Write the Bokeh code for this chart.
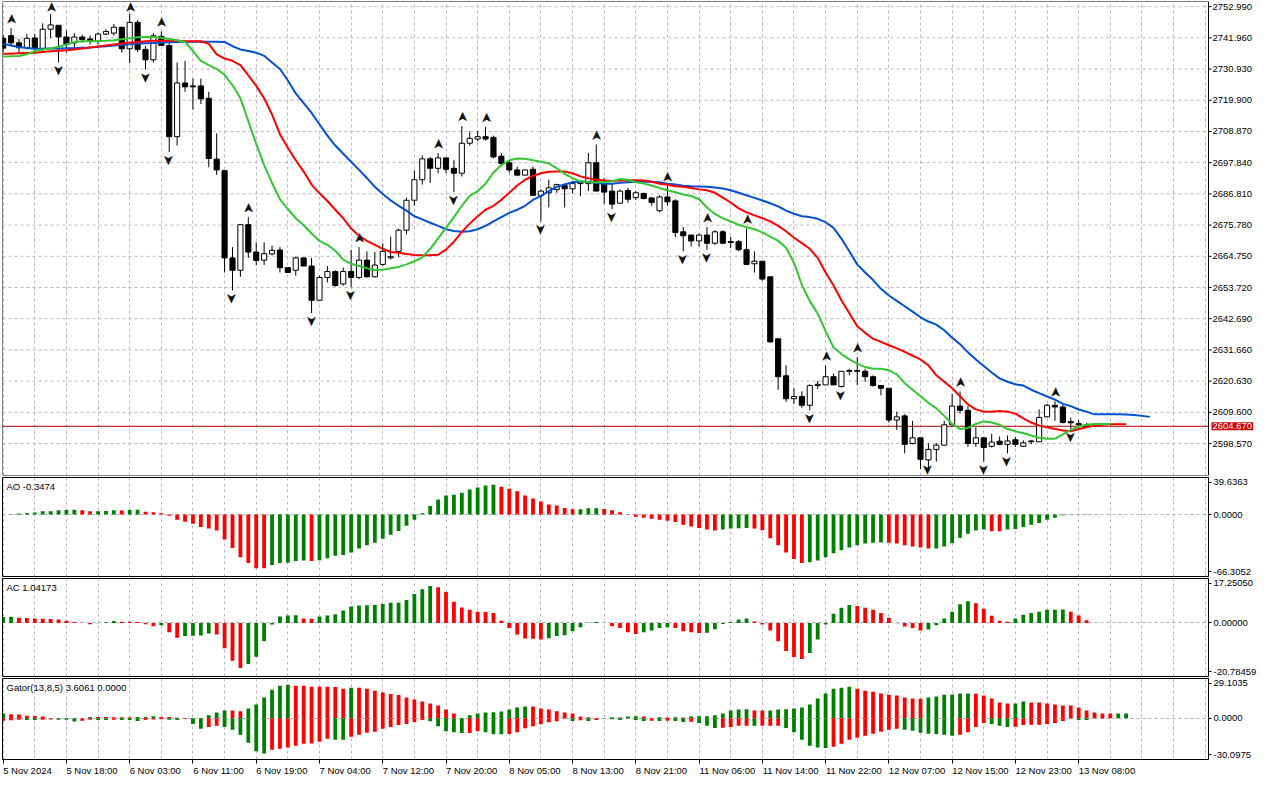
import math
import numpy as np
from bokeh.plotting import figure
from bokeh.layouts import column
from bokeh.models import (Range1d, FixedTicker, Grid, Label, ColumnDataSource,
                          BoxAnnotation, LinearAxis)
from bokeh.embed import file_html
from bokeh.resources import INLINE
from bokeh.core.properties import value

# ---------------- data (XAUUSD H1) ----------------
opens = [2741.8, 2742.71, 2740.18, 2738.45, 2741.90, 2738.10, 2745.01, 2746.39, 2742.25, 2740.18,
 2742.25, 2741.56, 2740.75, 2743.28, 2743.63, 2745.70, 2738.10, 2747.43, 2737.87, 2734.19,
 2742.48, 2739.26, 2707.02, 2726.02, 2724.98, 2724.98, 2720.60, 2699.08, 2695.04, 2664.19,
 2659.81, 2675.93, 2666.26, 2663.38, 2665.57, 2666.95, 2660.74, 2659.81, 2664.19, 2661.30,
 2649.22, 2657.28, 2659.36, 2654.97, 2659.36, 2657.28, 2663.38, 2657.51, 2661.88, 2664.20,
 2666.49, 2673.97, 2684.56, 2691.82, 2699.19, 2695.85, 2699.53, 2695.85, 2694.12, 2704.71,
 2706.21, 2707.02, 2706.79, 2700.11, 2697.80, 2695.27, 2693.43, 2695.50, 2686.29, 2687.21,
 2688.36, 2689.75, 2688.60, 2690.44, 2690.44, 2697.80, 2690.44, 2687.79, 2683.53, 2688.02,
 2685.49, 2686.98, 2685.37, 2680.88, 2685.72, 2684.34, 2673.40, 2672.25, 2670.17, 2672.25,
 2669.37, 2673.40, 2669.95, 2669.95, 2667.07, 2662.10, 2663.00, 2657.50, 2635.60, 2622.50,
 2614.40, 2615.20, 2612.10, 2619.10, 2619.30, 2622.20, 2618.70, 2624.40, 2624.40, 2624.10,
 2622.20, 2619.10, 2618.10, 2606.90, 2608.35, 2598.60, 2600.60, 2592.80, 2596.50, 2598.00,
 2605.20, 2611.80, 2610.30, 2598.60, 2600.60, 2597.60, 2599.40, 2598.30, 2599.90, 2597.60,
 2599.50, 2599.20, 2608.00, 2612.10, 2611.50, 2606.30, 2605.60, 2605.20]
highs = [2742.9, 2745.36, 2741.56, 2743.28, 2743.28, 2747.08, 2750.30, 2746.39, 2744.55, 2743.63,
 2743.05, 2742.71, 2743.86, 2745.01, 2746.85, 2745.70, 2750.54, 2748.23, 2739.03, 2743.63,
 2744.20, 2740.18, 2733.27, 2733.84, 2727.52, 2727.52, 2722.90, 2708.17, 2695.04, 2668.00,
 2675.93, 2678.58, 2669.70, 2669.70, 2668.56, 2667.99, 2660.74, 2664.65, 2664.19, 2664.19,
 2657.86, 2661.30, 2659.82, 2660.74, 2667.00, 2668.00, 2666.49, 2666.26, 2669.37, 2671.67,
 2674.55, 2685.49, 2695.04, 2700.45, 2699.88, 2701.20, 2699.53, 2698.73, 2710.81, 2708.86,
 2709.09, 2710.47, 2707.36, 2701.26, 2698.73, 2696.42, 2695.30, 2696.42, 2688.36, 2691.82,
 2690.40, 2690.44, 2691.24, 2691.24, 2701.26, 2704.25, 2692.40, 2690.67, 2688.36, 2688.94,
 2687.79, 2687.21, 2685.72, 2686.29, 2689.52, 2684.91, 2675.10, 2672.25, 2672.80, 2675.10,
 2673.97, 2673.97, 2671.67, 2670.50, 2674.55, 2666.50, 2663.00, 2657.50, 2635.60, 2626.20,
 2618.10, 2617.00, 2619.50, 2620.70, 2626.20, 2623.30, 2624.10, 2625.00, 2629.10, 2625.00,
 2622.70, 2619.10, 2618.10, 2609.80, 2608.90, 2606.60, 2600.60, 2598.60, 2598.80, 2606.60,
 2616.10, 2617.00, 2611.80, 2604.30, 2600.60, 2602.00, 2601.10, 2601.40, 2600.90, 2599.70,
 2599.90, 2610.60, 2612.60, 2613.50, 2612.40, 2607.80, 2606.85, 2605.90]
lows = [2736.9, 2739.03, 2736.72, 2737.87, 2736.95, 2736.72, 2741.90, 2733.27, 2736.72, 2737.87,
 2740.18, 2739.60, 2739.60, 2742.94, 2742.71, 2736.72, 2733.04, 2736.95, 2730.73, 2733.27,
 2739.03, 2701.60, 2703.90, 2722.90, 2716.57, 2718.53, 2696.20, 2693.55, 2659.02, 2652.70,
 2657.51, 2664.19, 2661.65, 2661.65, 2665.11, 2659.02, 2659.02, 2657.88, 2661.30, 2644.63,
 2649.22, 2655.55, 2654.05, 2654.40, 2653.82, 2656.70, 2657.28, 2657.28, 2661.30, 2663.61,
 2664.42, 2672.48, 2682.61, 2690.09, 2690.67, 2694.12, 2694.12, 2687.44, 2692.97, 2703.91,
 2705.40, 2705.63, 2699.30, 2696.65, 2694.35, 2693.43, 2693.43, 2686.29, 2677.08, 2682.03,
 2687.20, 2682.03, 2686.98, 2686.06, 2687.79, 2687.79, 2683.18, 2681.46, 2683.53, 2683.76,
 2684.68, 2684.91, 2682.61, 2680.30, 2682.61, 2671.50, 2666.50, 2668.20, 2668.20, 2667.10,
 2668.80, 2669.00, 2667.64, 2666.50, 2661.88, 2659.00, 2656.10, 2634.30, 2617.60, 2613.30,
 2612.60, 2611.20, 2610.30, 2617.90, 2619.30, 2619.30, 2618.40, 2622.70, 2619.30, 2620.40,
 2618.70, 2615.60, 2606.00, 2603.40, 2595.10, 2598.30, 2589.60, 2589.40, 2592.20, 2598.00,
 2604.90, 2609.20, 2597.40, 2597.40, 2592.20, 2597.20, 2598.00, 2595.10, 2597.40, 2597.40,
 2598.30, 2599.20, 2607.80, 2606.60, 2605.70, 2603.70, 2604.20, 2604.30]
closes = [2738.3, 2740.18, 2738.45, 2741.79, 2738.45, 2745.01, 2746.51, 2742.25, 2739.60, 2742.25,
 2741.33, 2740.75, 2743.28, 2744.20, 2745.70, 2738.10, 2747.43, 2737.87, 2734.19, 2742.71,
 2739.26, 2707.02, 2726.02, 2724.63, 2724.63, 2720.37, 2699.31, 2695.27, 2664.19, 2659.81,
 2675.93, 2666.26, 2663.27, 2665.68, 2666.84, 2660.74, 2659.02, 2664.19, 2661.30, 2649.22,
 2657.28, 2659.36, 2654.40, 2659.36, 2657.28, 2663.38, 2657.51, 2661.65, 2666.49, 2664.60,
 2673.97, 2684.56, 2691.82, 2699.19, 2695.85, 2699.53, 2695.50, 2694.12, 2704.71, 2706.44,
 2707.02, 2706.21, 2699.88, 2697.58, 2695.27, 2693.43, 2695.27, 2686.29, 2687.79, 2688.94,
 2690.09, 2688.60, 2690.44, 2691.00, 2697.80, 2687.79, 2687.44, 2683.18, 2687.79, 2684.91,
 2687.21, 2685.14, 2683.76, 2685.72, 2683.99, 2673.17, 2672.00, 2670.17, 2672.25, 2669.37,
 2673.40, 2669.37, 2669.60, 2667.07, 2661.88, 2663.00, 2656.70, 2634.50, 2622.20, 2614.40,
 2615.20, 2612.10, 2619.10, 2619.50, 2622.20, 2619.30, 2624.10, 2624.10, 2624.10, 2622.20,
 2619.10, 2618.10, 2606.90, 2608.00, 2598.30, 2600.60, 2593.00, 2596.50, 2598.00, 2605.20,
 2611.80, 2610.30, 2598.60, 2600.60, 2597.20, 2599.10, 2598.30, 2599.50, 2598.30, 2598.80,
 2599.20, 2607.80, 2612.10, 2611.50, 2606.00, 2605.90, 2605.20, 2604.67]

# Alligator (shifted lines, as displayed): jaw (blue), teeth (red), lips (green)
jaw = [2739.83, 2739.25, 2738.68, 2738.33, 2738.10, 2738.10, 2738.20, 2738.20, 2738.30, 2738.30,
 2738.45, 2738.56, 2738.80, 2739.00, 2739.25, 2739.50, 2739.70, 2739.94, 2740.06, 2740.17,
 2740.30, 2740.40, 2740.50, 2740.60, 2740.60, 2740.60, 2740.60, 2740.60, 2740.50, 2739.00,
 2737.87, 2737.30, 2736.72, 2735.60, 2733.27, 2730.96, 2726.90, 2722.30, 2718.90, 2715.40,
 2711.40, 2707.40, 2703.90, 2701.00, 2698.15, 2695.30, 2692.40, 2689.30, 2686.80, 2684.50,
 2682.60, 2680.90, 2678.90, 2677.80, 2676.60, 2675.50, 2674.30, 2673.70, 2673.40, 2673.60,
 2674.30, 2675.50, 2677.10, 2678.60, 2680.10, 2681.20, 2682.60, 2684.70, 2686.10, 2687.80,
 2689.30, 2690.10, 2690.90, 2691.20, 2691.00, 2690.70, 2690.40, 2690.40, 2690.70, 2690.90,
 2691.10, 2691.20, 2691.10, 2690.90, 2690.40, 2690.10, 2689.70, 2689.50, 2689.40, 2689.30,
 2689.05, 2688.70, 2688.10, 2687.20, 2686.30, 2685.40, 2684.45, 2683.50, 2682.40, 2680.90,
 2679.80, 2678.90, 2678.60, 2678.00, 2676.80, 2674.80, 2671.00, 2666.50, 2661.90, 2659.00,
 2656.35, 2653.25, 2650.90, 2649.00, 2647.10, 2645.20, 2643.20, 2641.70, 2640.60, 2638.60,
 2636.00, 2633.70, 2630.80, 2628.30, 2626.00, 2623.70, 2621.60, 2620.40, 2619.50, 2619.05,
 2617.60, 2616.40, 2615.20, 2614.10, 2612.60, 2611.80, 2610.60, 2609.85, 2608.90, 2608.90,
 2608.90, 2608.90, 2608.80, 2608.70, 2608.35, 2608.00]
teeth = [2736.37, 2736.37, 2736.50, 2736.60, 2736.70, 2736.95, 2737.20, 2737.40, 2737.60, 2737.87,
 2738.20, 2738.56, 2738.90, 2739.25, 2739.60, 2739.94, 2740.30, 2740.50, 2740.75, 2740.90,
 2740.90, 2740.90, 2740.90, 2740.75, 2740.75, 2740.75, 2739.83, 2736.14, 2734.65, 2733.84,
 2732.34, 2728.66, 2724.98, 2720.60, 2714.85, 2707.90, 2703.10, 2698.70, 2694.70, 2690.10,
 2687.00, 2684.30, 2681.20, 2678.20, 2674.55, 2672.00, 2670.20, 2668.80, 2667.40, 2666.26,
 2666.00, 2665.60, 2665.20, 2665.10, 2665.10, 2665.30, 2667.10, 2669.90, 2673.40, 2676.30,
 2678.90, 2681.20, 2682.60, 2684.70, 2687.20, 2689.75, 2691.80, 2693.20, 2694.10, 2694.60,
 2694.70, 2694.70, 2694.10, 2693.00, 2692.30, 2691.80, 2691.50, 2691.40, 2691.50, 2691.60,
 2691.60, 2691.50, 2691.10, 2690.40, 2690.00, 2689.50, 2689.30, 2688.90, 2688.40, 2688.10,
 2687.20, 2685.50, 2683.76, 2681.70, 2680.30, 2679.20, 2678.20, 2677.10, 2675.50, 2673.60,
 2671.30, 2669.40, 2667.40, 2664.20, 2659.00, 2654.40, 2649.20, 2644.60, 2640.00, 2637.70,
 2635.60, 2634.50, 2633.30, 2632.20, 2631.00, 2629.60, 2628.30, 2626.20, 2622.70, 2620.40,
 2618.10, 2615.30, 2612.40, 2610.65, 2609.85, 2609.85, 2610.10, 2609.85, 2609.15, 2607.50,
 2606.00, 2604.90, 2604.30, 2603.70, 2603.20, 2602.90, 2603.70, 2604.30, 2604.90, 2605.20,
 2605.35, 2605.35, 2605.35]
lips = [2735.34, 2735.45, 2735.57, 2736.14, 2737.30, 2737.87, 2738.20, 2738.80, 2739.60, 2740.50,
 2740.75, 2740.75, 2740.75, 2740.90, 2741.10, 2741.44, 2741.80, 2742.13, 2742.25, 2742.25,
 2742.00, 2741.56, 2741.10, 2740.50, 2737.30, 2733.84, 2732.34, 2730.96, 2728.89, 2725.20,
 2720.60, 2712.50, 2704.50, 2697.00, 2690.67, 2684.90, 2681.46, 2678.20, 2675.70, 2672.80,
 2670.17, 2668.80, 2666.70, 2663.60, 2662.10, 2661.30, 2660.50, 2659.80, 2660.00, 2660.50,
 2661.00, 2661.90, 2663.00, 2664.40, 2667.40, 2671.10, 2674.80, 2678.60, 2682.60, 2686.10,
 2687.80, 2690.40, 2694.35, 2697.00, 2698.70, 2699.30, 2699.20, 2698.70, 2698.15, 2697.60,
 2695.85, 2693.90, 2692.40, 2691.24, 2690.90, 2690.90, 2690.90, 2691.24, 2692.05, 2691.80,
 2690.90, 2690.44, 2689.75, 2688.90, 2688.10, 2687.40, 2686.60, 2686.06, 2684.90, 2682.00,
 2679.70, 2678.20, 2677.10, 2675.90, 2675.00, 2674.30, 2673.20, 2671.70, 2670.20, 2667.80,
 2662.50, 2654.60, 2648.90, 2644.50, 2638.30, 2632.50, 2630.20, 2628.30, 2626.80, 2625.60,
 2625.00, 2625.00, 2624.50, 2623.00, 2619.90, 2617.60, 2615.30, 2613.00, 2611.00, 2608.35,
 2605.50, 2603.70, 2604.10, 2605.50, 2606.40, 2606.00, 2605.20, 2603.70, 2602.90, 2602.30,
 2601.40, 2600.60, 2600.30, 2600.30, 2601.80, 2603.40, 2604.55, 2605.20, 2605.50, 2605.50,
 2605.50]

# Bill Williams fractals (bar indices)
fractal_up = [1, 6, 16, 20, 31, 45, 55, 58, 61, 75, 84, 89, 94, 104, 108, 121, 133]
fractal_dn = [7, 18, 21, 29, 39, 44, 57, 68, 77, 86, 89, 102, 106, 117, 124, 127, 135]

# Awesome Oscillator
ao = [0.1, 0.2, 1.0, 1.7, 2.1, 3.5, 3.6, 4.5, 4.9, 5.0,
 4.5, 3.5, 3.6, 3.7, 4.5, 4.4, 4.9, 5.0, 3.1, 2.4,
 1.4, -1.4, -5.6, -7.7, -9.8, -13.3, -15.0, -17.1, -26.6, -35.7,
 -45.8, -51.8, -57.4, -57.6, -53.9, -51.8, -51.7, -49.7, -49.3, -49.6,
 -49.0, -46.9, -44.1, -43.4, -40.6, -36.4, -32.9, -30.1, -25.9, -21.7,
 -17.5, -11.9, -5.6, 1.4, 9.1, 16.1, 20.3, 21.3, 23.4, 26.9,
 29.0, 31.1, 31.8, 29.7, 27.6, 24.8, 20.3, 17.1, 14.0, 10.8,
 9.8, 7.0, 5.6, 5.7, 6.6, 6.7, 5.9, 4.5, 2.4, 0.3,
 -2.4, -3.5, -4.5, -5.6, -6.6, -8.0, -10.8, -12.9, -14.3, -16.1,
 -17.1, -16.1, -15.0, -14.7, -14.3, -15.0, -16.8, -25.5, -32.9, -40.6,
 -47.6, -51.8, -51.1, -49.3, -45.8, -41.3, -38.1, -35.3, -32.9, -31.1,
 -30.1, -30.0, -30.3, -31.1, -32.9, -34.3, -35.3, -36.4, -36.3, -34.3,
 -30.8, -24.8, -20.6, -17.1, -16.1, -17.8, -17.9, -16.1, -15.4, -13.3,
 -10.8, -9.1, -5.6, -3.5, -0.7, 0.2, 0.3, -0.3474]

# Accelerator Oscillator
ac = [2.3, 2.4, 2.0, 1.9, 1.7, 1.6, 1.5, 1.3, 0.9, 0.4,
 0.1, -0.5, -0.1, 0.3, 0.8, 0.5, 0.45, 0.4, -0.5, -1.3,
 -0.9, -3.6, -5.7, -5.1, -5.0, -4.9, -4.1, -4.5, -9.8, -14.7,
 -17.5, -15.9, -13.1, -7.0, -0.6, 2.5, 2.9, 3.0, 1.7, 1.6,
 2.5, 2.9, 3.4, 4.8, 6.4, 6.8, 6.9, 7.0, 7.4, 7.8,
 7.85, 8.9, 11.2, 13.1, 14.3, 13.9, 12.0, 8.2, 6.0, 5.1,
 4.3, 4.25, 3.9, 0.9, -2.0, -4.5, -6.0, -6.1, -6.4, -5.9,
 -5.1, -4.8, -3.2, -1.7, 0.1, 0.4, -0.05, -1.3, -2.0, -3.6,
 -4.3, -3.6, -2.9, -2.0, -1.7, -2.0, -3.2, -3.6, -3.9, -3.85,
 -2.4, -0.4, 0.4, 1.3, 1.7, 0.6, -0.6, -2.9, -7.1, -10.9,
 -13.2, -14.0, -11.7, -6.4, -0.6, 3.6, 5.9, 7.0, 6.6, 5.9,
 5.1, 3.9, 2.0, -0.1, -1.4, -2.0, -2.9, -2.5, -0.9, 1.7,
 4.3, 7.3, 8.4, 7.6, 5.5, 2.8, 0.9, 0.5, 1.7, 3.2,
 3.9, 4.3, 5.1, 5.15, 5.2, 4.3, 2.9, 1.04173]

# Gator oscillator (upper / lower histograms)
gator_up = [3.6, 2.9, 2.85, 1.9, 1.7, 1.4, 0.1, 0.05, 0.04, 0.03,
 0.02, 0.95, 0.9, 0.88, 0.86, 0.85, 0.84, 0.95, 0.98, 1.6,
 0.95, 0.9, 0.4, 0.3, 0.1, 0.05, 2.2, 4.3, 5.8, 5.75,
 5.1, 7.2, 10.1, 15.2, 20.9, 23.8, 24.6, 23.8, 23.75, 23.1,
 23.05, 23.0, 22.95, 21.7, 22.4, 22.35, 21.7, 20.2, 18.8, 17.8,
 17.1, 15.2, 13.7, 12.3, 10.8, 9.4, 6.5, 3.6, 0.2, 2.2,
 3.6, 4.3, 4.35, 5.05, 6.5, 7.9, 8.7, 8.65, 7.2, 6.5,
 5.1, 4.3, 3.6, 1.4, 0.7, 0.1, 0.05, 0.7, 0.65, 1.4,
 1.45, 1.4, 0.2, 0.7, 0.65, 0.7, 0.65, 1.4, 1.45, 1.5,
 2.2, 3.6, 5.8, 6.5, 6.55, 5.8, 5.75, 5.8, 6.5, 6.55,
 7.2, 7.9, 10.1, 14.4, 18.05, 21.7, 22.4, 23.1, 21.7, 20.2,
 19.5, 18.05, 17.3, 16.6, 15.2, 14.4, 14.35, 15.2, 15.9, 17.3,
 17.35, 18.05, 18.1, 18.0, 16.6, 14.4, 11.6, 10.8, 10.85, 12.3,
 11.6, 11.55, 10.8, 10.1, 9.4, 9.35, 7.9, 5.8, 4.3, 3.6,
 3.55, 3.58, 3.6061]
gator_dn = [-1.7, -1.4, -1.0, -1.2, -1.25, -1.0, -0.9, -1.0, -1.05, -2.4,
 -1.7, -1.0, -1.2, -1.3, -1.0, -1.2, -1.25, -1.9, -1.2, -0.8,
 -0.6, -1.0, -1.2, -0.5, -4.1, -7.7, -6.3, -5.5, -6.3, -8.4,
 -12.0, -17.8, -24.1, -25.8, -22.9, -22.2, -21.4, -20.0, -18.5, -18.45,
 -17.1, -14.9, -15.6, -15.7, -13.5, -12.0, -10.6, -9.9, -7.7, -6.3,
 -4.8, -4.1, -2.6, -1.2, -2.2, -5.8, -9.4, -10.1, -10.8, -10.75,
 -9.4, -10.1, -11.6, -11.65, -11.5, -10.1, -7.2, -5.8, -4.3, -2.9,
 -2.2, -0.2, -1.9, -1.4, -1.9, -1.2, -0.1, -0.7, -1.2, -0.1,
 -1.2, -1.9, -1.85, -1.9, -1.85, -1.9, -2.6, -2.55, -3.4, -5.5,
 -7.0, -6.95, -6.3, -5.5, -5.45, -5.5, -5.45, -5.4, -5.35, -7.0,
 -10.1, -15.6, -20.0, -21.4, -21.7, -20.7, -18.5, -15.6, -14.2, -12.8,
 -11.3, -9.9, -8.4, -7.7, -8.4, -9.1, -10.6, -11.3, -11.4, -12.0,
 -12.8, -12.0, -10.1, -6.3, -3.4, -4.1, -5.5, -6.3, -6.25, -4.8,
 -4.75, -4.7, -4.1, -3.4, -1.9, -0.2, -1.2, -1.25, -0.2, -0.1,
 0.0, 0.0, 0.0]

price_ticks = [2752.990, 2741.960, 2730.930, 2719.900, 2708.870, 2697.840, 2686.810, 2675.780,
               2664.750, 2653.720, 2642.690, 2631.660, 2620.630, 2609.600, 2598.570]
last_price = 2604.670
time_tick_bars = [0, 8, 16, 24, 32, 40, 48, 56, 64, 72, 80, 88, 96, 104, 112, 120, 128, 136]
time_tick_labels = ["5 Nov 2024", "5 Nov 18:00", "6 Nov 03:00", "6 Nov 11:00", "6 Nov 19:00",
                    "7 Nov 04:00", "7 Nov 12:00", "7 Nov 20:00", "8 Nov 05:00", "8 Nov 13:00",
                    "8 Nov 21:00", "11 Nov 06:00", "11 Nov 14:00", "11 Nov 22:00", "12 Nov 07:00",
                    "12 Nov 15:00", "12 Nov 23:00", "13 Nov 08:00"]
main_range = (2587.28, 2754.80)
ao_range = (-66.3052, 39.6363)
ac_range = (-20.78459, 17.25050)
gator_range = (-30.0975, 29.1035)
ao_title = "AO -0.3474"
ac_title = "AC 1.04173"
gator_title = "Gator(13,8,5) 3.6061 0.0000"
ao_labels = ("39.6363", "0.0000", "-66.3052")
ac_labels = ("17.25050", "0.00000", "-20.78459")
gator_labels = ("29.1035", "0.0000", "-30.0975")

# ---------------- styling / layout ----------------
FONT = "Liberation Sans"
FS_PX = 9.5
FS = "9.5px"
FW = 1206          # width of the bar area of every panel
AXW = 56           # width of the price-scale strip
H_MAIN, H_AO, H_AC, H_GT = 474, 99, 98, 81
VISIBLE_BARS = 152.5
X0 = -0.083
PXB = FW / VISIBLE_BARS  # pixels per bar
X_AXIS = X0 + VISIBLE_BARS
GRID_COLOR = "#c2b2c6"
ZERO_COLOR = "#a8b0c2"
UP_COL = "#008000"
DN_COL = "#ff0000"
ARROW = "\u27a4"
# approximate advance widths (em) of Liberation Sans, used to left-align date labels
CHAR_EM = {" ": 0.278, ":": 0.278, "N": 0.722, "o": 0.556, "v": 0.5}

N = len(opens)
assert len(highs) == N and len(lows) == N and len(closes) == N
assert len(ao) == N and len(ac) == N

xr = Range1d(X0, X_AXIS)
grid_bars = list(range(0, 156, 4))


def style_axis(ax):
    ax.axis_line_color = "black"
    ax.major_tick_out = 3
    ax.major_tick_in = 0
    ax.minor_tick_out = 0
    ax.minor_tick_in = 0
    ax.major_label_standoff = 2
    ax.major_label_text_font = FONT
    ax.major_label_text_font_size = FS
    ax.major_label_text_color = "black"


def vgrid(p):
    p.add_layout(Grid(dimension=0, ticker=FixedTicker(ticks=grid_bars),
                      grid_line_color=GRID_COLOR, grid_line_dash="3 3", grid_line_width=1))


def sub_fig(fh, yrng, bottom_axis=False):
    p = figure(frame_width=FW, frame_height=fh, x_range=xr, y_range=Range1d(*yrng),
               output_backend="svg", toolbar_location=None,
               x_axis_location="below" if bottom_axis else None, y_axis_location="right",
               min_border_left=2, min_border_right=2, min_border_top=1, min_border_bottom=1)
    p.xgrid.visible = False
    p.ygrid.visible = False
    p.outline_line_color = "black"
    p.outline_line_alpha = 1.0
    p.outline_line_width = 1
    p.background_fill_color = "white"
    p.border_fill_color = "white"
    vgrid(p)
    style_axis(p.yaxis[0])
    return p


def edge_ticks(p, yrng, fh, labels):
    ppx = (yrng[1] - yrng[0]) / fh
    top_t = yrng[1] - 4.5 * ppx
    bot_t = yrng[0] + 5.0 * ppx
    ax = p.yaxis[0]
    ax.ticker = FixedTicker(ticks=[top_t, 0.0, bot_t])
    ax.major_label_overrides = {top_t: labels[0], 0.0: labels[1], bot_t: labels[2]}
    p.add_layout(Grid(dimension=1, ticker=FixedTicker(ticks=[0.0]),
                      grid_line_color=ZERO_COLOR, grid_line_dash="3 3", grid_line_width=1))


def title(p, yrng, fh, text):
    ppx = (yrng[1] - yrng[0]) / fh
    p.add_layout(Label(x=X0 + 4.0 / PXB, y=yrng[1] - 3.0 * ppx, text=text,
                       text_baseline="top", text_align="left", text_font=FONT,
                       text_font_size=FS, text_color="black"))


# ---- main price panel (price scale drawn inside the frame, at its right) ----
main = figure(frame_width=FW + AXW, frame_height=H_MAIN,
              x_range=Range1d(X0, X_AXIS + AXW / PXB), y_range=Range1d(*main_range),
              output_backend="svg", toolbar_location=None,
              x_axis_location=None, y_axis_location=None,
              min_border_left=2, min_border_right=0, min_border_top=1, min_border_bottom=1)
main.xgrid.visible = False
main.ygrid.visible = False
main.outline_line_color = None
main.background_fill_color = "white"
main.border_fill_color = "white"
vgrid(main)

pt = np.array(price_ticks)
main.segment(x0=[X0] * len(pt), y0=pt, x1=[X_AXIS] * len(pt), y1=pt,
             line_color=GRID_COLOR, line_dash="3 3", line_width=1)
main.segment(x0=[X0], y0=[last_price], x1=[X_AXIS], y1=[last_price],
             line_color="#b00000", line_width=1)

xs = np.arange(N)
o = np.array(opens); h = np.array(highs); l = np.array(lows); c = np.array(closes)
csrc = ColumnDataSource(dict(
    x=xs, h=h, l=l, top=np.maximum(o, c), bot=np.minimum(o, c),
    fill=["white" if cc >= oo else "black" for oo, cc in zip(o, c)]))
main.segment(x0="x", y0="h", x1="x", y1="l", line_color="black", line_width=1, source=csrc)
main.vbar(x="x", width=0.65, top="top", bottom="bot", fill_color="fill",
          line_color="black", line_width=1, source=csrc)

main.line(np.arange(len(jaw)), jaw, line_color="#0050d0", line_width=2)
main.line(np.arange(len(teeth)), teeth, line_color="#ff0000", line_width=2)
main.line(np.arange(len(lips)), lips, line_color="#32c832", line_width=2)

# fractal arrows (arrowhead glyphs above highs / below lows, kept inside the frame)
ppx_main = (main_range[1] - main_range[0]) / H_MAIN
y_up = [min(highs[i] + 9.0 * ppx_main, main_range[1] - 6.0 * ppx_main) for i in fractal_up]
y_dn = [max(lows[i] - 8.0 * ppx_main, main_range[0] + 6.0 * ppx_main) for i in fractal_dn]
main.text(x=fractal_up, y=y_up,
          text=[ARROW] * len(fractal_up), angle=math.pi / 2,
          text_align="center", text_baseline="middle", text_font=value("DejaVu Sans"),
          text_font_size="14px", text_color="#141414")
main.text(x=fractal_dn, y=y_dn,
          text=[ARROW] * len(fractal_dn), angle=-math.pi / 2,
          text_align="center", text_baseline="middle", text_font=value("DejaVu Sans"),
          text_font_size="14px", text_color="#141414")

# frame of the bar area + price scale
main.add_layout(BoxAnnotation(right=X_AXIS, fill_alpha=0.0, line_color="black",
                              line_width=1, line_alpha=1.0))
main.segment(x0=[X_AXIS] * len(pt), y0=pt, x1=[X_AXIS + 3.0 / PXB] * len(pt), y1=pt,
             line_color="black", line_width=1)
main.text(x=[X_AXIS] * len(pt), y=pt, text=["%.3f" % v for v in price_ticks],
          x_offset=4, text_align="left", text_baseline="middle",
          text_font=value(FONT), text_font_size=FS, text_color="black")
main.add_layout(Label(x=X_AXIS, y=last_price, x_offset=3, text="%.3f" % last_price,
                      text_align="left", text_baseline="middle", text_font=FONT,
                      text_font_size=FS, text_color="white",
                      background_fill_color="#cc0000", padding=1))


def bar_colors(vals, first):
    cols = [first]
    for i in range(1, len(vals)):
        cols.append(UP_COL if vals[i] > vals[i - 1] else DN_COL)
    return cols


# ---- AO ----
aof = sub_fig(H_AO, ao_range)
edge_ticks(aof, ao_range, H_AO, ao_labels)
aof.vbar(x=xs, width=0.48, top=ao, bottom=0, fill_color=bar_colors(ao, UP_COL),
         line_color=None)
title(aof, ao_range, H_AO, ao_title)

# ---- AC ----
acf = sub_fig(H_AC, ac_range)
edge_ticks(acf, ac_range, H_AC, ac_labels)
acf.vbar(x=xs, width=0.48, top=ac, bottom=0, fill_color=bar_colors(ac, UP_COL),
         line_color=None)
title(acf, ac_range, H_AC, ac_title)

# ---- Gator ----
gtf = sub_fig(H_GT, gator_range, bottom_axis=True)
edge_ticks(gtf, gator_range, H_GT, gator_labels)
gx = np.arange(len(gator_up))
up_cols = bar_colors(gator_up, UP_COL)
dn_abs = [abs(v) for v in gator_dn]
dn_cols = [DN_COL] + [UP_COL if dn_abs[i] > dn_abs[i - 1] else DN_COL
                      for i in range(1, len(dn_abs))]
gtf.vbar(x=gx, width=0.48, top=gator_up, bottom=0, fill_color=up_cols, line_color=None)
gtf.vbar(x=gx, width=0.48, top=0, bottom=gator_dn, fill_color=dn_cols, line_color=None)
title(gtf, gator_range, H_GT, gator_title)

# time scale: tick marks on one axis, left-aligned labels on a second one
xa = gtf.xaxis[0]
xa.ticker = FixedTicker(ticks=time_tick_bars)
xa.major_label_overrides = {b: "" for b in time_tick_bars}
xa.major_label_text_font_size = "1px"
xa.major_label_standoff = 0
xa.axis_line_color = "black"
xa.major_tick_out = 4
xa.major_tick_in = 0
xa.minor_tick_out = 0
xa.minor_tick_in = 0


def text_px(s):
    return sum(CHAR_EM.get(ch, 0.556) for ch in s) * FS_PX


label_pos = [b + 0.5 * text_px(t) / PXB for b, t in zip(time_tick_bars, time_tick_labels)]
lab_axis = LinearAxis(ticker=FixedTicker(ticks=label_pos),
                      major_label_overrides={p_: t for p_, t in zip(label_pos, time_tick_labels)},
                      axis_line_color=None, major_tick_out=0, major_tick_in=0,
                      minor_tick_out=0, minor_tick_in=0, major_label_standoff=1,
                      major_label_text_font=FONT, major_label_text_font_size=FS,
                      major_label_text_color="black")
gtf.add_layout(lab_axis, "below")

layout = column(main, aof, acf, gtf, spacing=0)
open("out.html", "w").write(file_html(layout, INLINE))
